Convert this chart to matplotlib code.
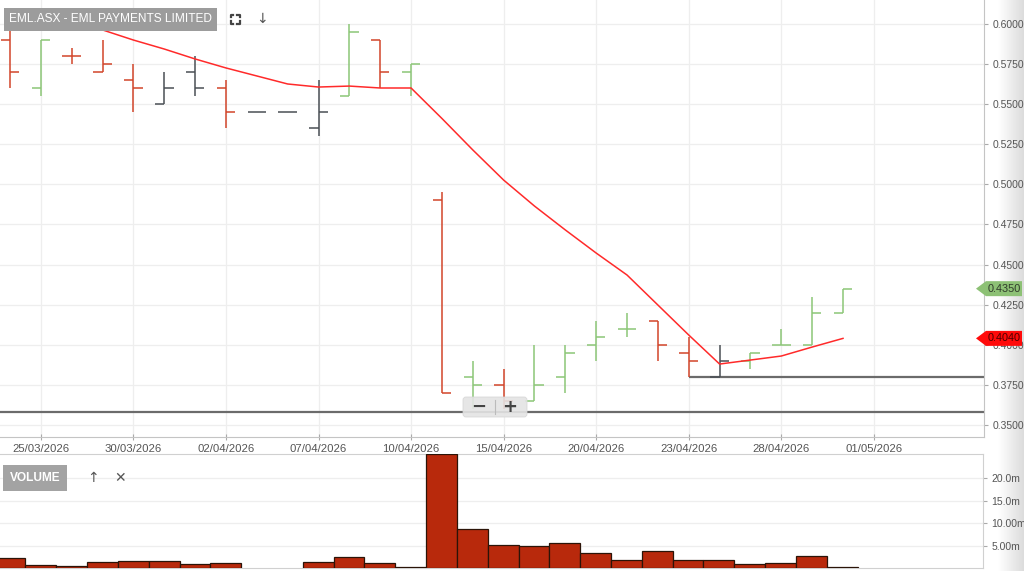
import matplotlib
matplotlib.use('Agg')
import matplotlib.pyplot as plt
import numpy as np
import pandas as pd
from matplotlib.patches import Polygon, FancyBboxPatch
from matplotlib.transforms import IdentityTransform

plt.rcParams['font.family'] = ['Liberation Sans', 'DejaVu Sans']

# === ДАННЫЕ ===
dates = ['24/03', '25/03', '26/03', '27/03', '30/03', '31/03', '01/04', '02/04',
         '03/04', '06/04', '07/04', '08/04', '09/04', '10/04', '13/04', '14/04',
         '15/04', '16/04', '17/04', '20/04', '21/04', '22/04', '23/04', '24/04',
         '27/04', '28/04', '29/04', '30/04']
opens = [0.590, 0.560, 0.580, 0.570, 0.565, 0.550, 0.570, 0.560,
         0.545, 0.545, 0.535, 0.555, 0.590, 0.570, 0.490, 0.380,
         0.375, 0.365, 0.380, 0.400, 0.410, 0.415, 0.395, 0.380,
         0.390, 0.400, 0.400, 0.420]
highs = [0.600, 0.590, 0.585, 0.590, 0.575, 0.570, 0.580, 0.565,
         0.545, 0.545, 0.565, 0.600, 0.590, 0.575, 0.495, 0.390,
         0.385, 0.400, 0.400, 0.415, 0.420, 0.415, 0.405, 0.400,
         0.395, 0.410, 0.430, 0.435]
lows = [0.560, 0.555, 0.575, 0.570, 0.545, 0.550, 0.555, 0.535,
        0.545, 0.545, 0.530, 0.555, 0.560, 0.555, 0.370, 0.360,
        0.360, 0.365, 0.370, 0.390, 0.405, 0.390, 0.380, 0.380,
        0.385, 0.400, 0.400, 0.420]
closes = [0.570, 0.590, 0.580, 0.575, 0.560, 0.560, 0.560, 0.545,
          0.545, 0.545, 0.545, 0.595, 0.570, 0.575, 0.370, 0.375,
          0.365, 0.375, 0.395, 0.405, 0.410, 0.400, 0.390, 0.390,
          0.395, 0.400, 0.420, 0.435]
prior_close = 0.600

# скользящая средняя (красная линия)
ma_values = [0.6065, 0.6037, 0.6006, 0.5963, 0.5900, 0.5844, 0.5782, 0.5726,
             0.5676, 0.5626, 0.5607, 0.5613, 0.5601, 0.5601, 0.5411, 0.5215,
             0.5027, 0.4865, 0.4716, 0.4572, 0.4435, 0.4248, 0.4061, 0.3880,
             0.3905, 0.3930, 0.3986, 0.4040]

# объём, млн
volume_m = [2.3, 0.7, 0.4, 1.4, 1.6, 1.6, 0.8, 1.2,
            0.0, 0.0, 1.4, 2.5, 1.15, 0.3, 25.4, 8.7,
            5.15, 4.8, 5.5, 3.4, 1.7, 3.7, 1.7, 1.8,
            0.8, 1.2, 2.7, 0.3]

# линии поддержки: уровень и дата начала (None = на всю ширину)
support_levels = [0.358, 0.380]
support_starts = [None, '23/04']

tick_labels = ['25/03/2026', '30/03/2026', '02/04/2026', '07/04/2026', '10/04/2026',
               '15/04/2026', '20/04/2026', '23/04/2026', '28/04/2026', '01/05/2026']
price_ticks = [0.35, 0.375, 0.40, 0.425, 0.45, 0.475, 0.50, 0.525, 0.55, 0.575, 0.60]
volume_ticks = [5, 10, 15, 20]
volume_tick_labels = ['5.00m', '10.00m', '15.0m', '20.0m']

# календарь рабочих дней -> позиция по оси x
calendar = pd.bdate_range('2026-03-24', '2026-05-01')
slot = {d.strftime('%d/%m'): i for i, d in enumerate(calendar)}
x = np.array([slot[d] for d in dates])
tick_pos = [slot[t[:5]] for t in tick_labels]

RED = '#d2452a'
GREEN = '#8cc677'
GRAY = '#4a4f55'
TXT = '#555555'
GRID = '#eeeeee'

fig = plt.figure(figsize=(10.24, 5.71), dpi=100)
W, H = 1024, 571

# тень справа
shade = fig.add_axes([998 / W, 0, 26 / W, 1], zorder=-1)
shade.imshow(np.linspace(1.0, 0.86, 64)[None, :], cmap='gray', vmin=0, vmax=1,
             aspect='auto', extent=[0, 1, 0, 1])
shade.axis('off')

ax = fig.add_axes([0, 1 - 437 / H, 984 / W, 437 / H])
vax = fig.add_axes([0, 1 - 568 / H, 983 / W, 114 / H])

xlim = (-0.324, 31.57)

# --- ЦЕНА ---
prev = prior_close
for xi, o, h, l, c in zip(x, opens, highs, lows, closes):
    col = GREEN if c > prev + 1e-9 else (RED if c < prev - 1e-9 else GRAY)
    ax.vlines(xi, l, h, color=col, lw=1.1, zorder=3)
    ax.hlines(o, xi - 0.3, xi, color=col, lw=1.1, zorder=3)
    ax.hlines(c, xi, xi + 0.3, color=col, lw=1.1, zorder=3)
    prev = c

ax.plot(x, ma_values, color='#ff2a2a', lw=1.1, zorder=4)

for lvl, start in zip(support_levels, support_starts):
    x0 = xlim[0] if start is None else slot[start]
    ax.hlines(lvl, x0, xlim[1], color='#6b6b6b', lw=1.6, zorder=2)

ax.set_xlim(*xlim)
ax.set_ylim(0.34252, 0.61496)
ax.set_yticks(price_ticks)
ax.set_yticklabels([f'{p:.4f}' for p in price_ticks])
ax.yaxis.tick_right()
ax.set_xticks(tick_pos)
ax.set_xticklabels(tick_labels)
ax.tick_params(axis='x', length=4, direction='inout', colors='#aaaaaa', labelcolor=TXT,
               labelsize=8.2, pad=3)
ax.tick_params(axis='y', length=3, colors='#aaaaaa', labelcolor=TXT, labelsize=7.5, pad=3)
ax.grid(True, color=GRID, lw=0.9)
ax.set_axisbelow(True)
for s in ['top', 'left']:
    ax.spines[s].set_visible(False)
ax.spines['right'].set_color('#c4c4c4')
ax.spines['bottom'].set_color('#c4c4c4')

# --- ОБЪЁМ ---
vol_x = [xi for xi, v in zip(x, volume_m) if v > 0]
vol_v = [v for v in volume_m if v > 0]
vax.bar(vol_x, vol_v, width=1.0, color='#b8290c', edgecolor='#2b1408', lw=0.9, zorder=3)
vax.set_xlim(*xlim)
vax.set_ylim(0, 25.45)
vax.set_yticks(volume_ticks)
vax.set_yticklabels(volume_tick_labels)
vax.yaxis.tick_right()
vax.set_xticks([])
vax.tick_params(axis='y', length=3, colors='#aaaaaa', labelcolor=TXT, labelsize=7.5, pad=3)
vax.grid(True, axis='y', color=GRID, lw=0.9)
vax.set_axisbelow(True)
vax.spines['left'].set_visible(False)
for s in ['top', 'right', 'bottom']:
    vax.spines[s].set_color('#d0d0d0')

# --- МЕТКИ ПОСЛЕДНИХ ЗНАЧЕНИЙ ---
fig.canvas.draw()


def price_tag(value, face, text_color):
    _, yp = ax.transData.transform((0, value))
    verts = [(976, yp), (986, yp + 7.5), (1022, yp + 7.5), (1022, yp - 7.5), (986, yp - 7.5)]
    fig.patches.append(Polygon(verts, closed=True, facecolor=face, edgecolor='none',
                               transform=IdentityTransform(), figure=fig, zorder=10))
    fig.text(1004 / W, yp / H, f'{value:.4f}', ha='center', va='center', fontsize=7.8,
             color=text_color, zorder=11)


price_tag(closes[-1], '#8dc175', '#2f3a2a')
price_tag(ma_values[-1], '#ff0a0a', '#4a0000')

# --- ЭЛЕМЕНТЫ ИНТЕРФЕЙСА ---
fig.text(9 / W, 1 - 19.5 / H, 'EML.ASX - EML PAYMENTS LIMITED', ha='left', va='center',
         fontsize=8.6, color='white',
         bbox=dict(boxstyle='square,pad=0.42', facecolor='#9c9c9c', edgecolor='none'))
fig.text(10 / W, 1 - 478 / H, 'VOLUME', ha='left', va='center', fontsize=8.6, color='white',
         fontweight='bold',
         bbox=dict(boxstyle='square,pad=0.55', facecolor='#a3a3a3', edgecolor='none'))
fig.text(262 / W, 1 - 19 / H, '↓', ha='center', va='center', fontsize=10, color='#555555',
         family=['DejaVu Sans'])
fig.text(93 / W, 1 - 478 / H, '↑', ha='center', va='center', fontsize=10, color='#555555',
         family=['DejaVu Sans'])
fig.text(120 / W, 1 - 478 / H, '✕', ha='center', va='center', fontsize=10, color='#555555',
         family=['DejaVu Sans'])

# значок "развернуть"
cx, cy, r, k = 235, H - 19, 4.5, 2.5
for sx in (-1, 1):
    for sy in (-1, 1):
        fig.lines.append(plt.Line2D([cx + sx * r, cx + sx * r, cx + sx * (r - k)],
                                    [cy + sy * (r - k), cy + sy * r, cy + sy * r],
                                    color='#444444', lw=1.6, transform=IdentityTransform(),
                                    figure=fig))

# кнопки масштаба
fig.patches.append(FancyBboxPatch((463, H - 417), 64, 20, boxstyle='round,pad=0,rounding_size=3',
                                  facecolor='#e4e4e4', edgecolor='#d6d6d6', lw=0.6, alpha=0.9,
                                  transform=IdentityTransform(), figure=fig, zorder=12))
fig.lines.append(plt.Line2D([495, 495], [H - 414, H - 400], color='#bbbbbb', lw=0.8,
                            transform=IdentityTransform(), figure=fig, zorder=13))
fig.text(479 / W, 1 - 407 / H, '−', ha='center', va='center', fontsize=13, fontweight='bold',
         color='#444444', family=['DejaVu Sans'], zorder=14)
fig.text(510 / W, 1 - 407 / H, '+', ha='center', va='center', fontsize=13, fontweight='bold',
         color='#444444', family=['DejaVu Sans'], zorder=14)

plt.savefig('out.png', dpi=100)
